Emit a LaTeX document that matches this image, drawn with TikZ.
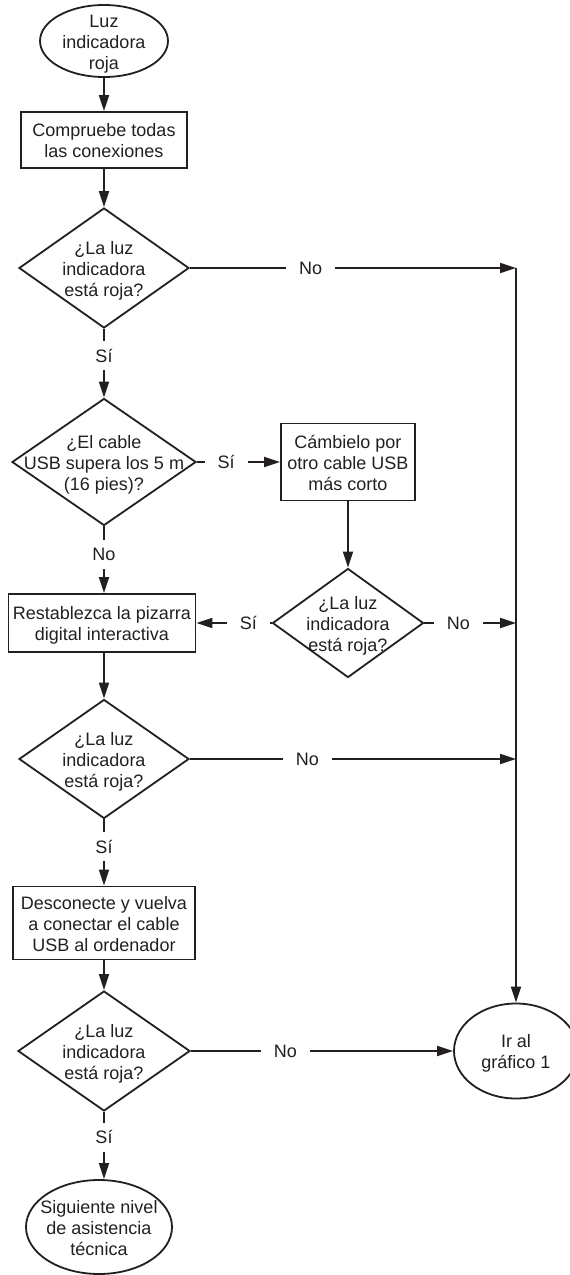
\documentclass[tikz,border=0pt]{standalone}
\usepackage{fontspec}
\setmainfont{Liberation Sans}
\usetikzlibrary{shapes.geometric,arrows.meta}

\definecolor{ink}{RGB}{35,31,32}
\newcommand{\qtext}[1]{\smash{\raisebox{-0.42em}{\makebox[0pt]{\begin{tabular}{@{}c@{}}#1\end{tabular}}}}}

\tikzset{
    base/.style={draw=ink, line width=0.9pt, inner sep=0pt, text=ink, font=\fontsize{9}{10.6}\selectfont},
    term/.style 2 args={base, ellipse, minimum width=#1, minimum height=#2},
    process/.style 2 args={base, rectangle, minimum width=#1, minimum height=#2},
    decision/.style 2 args={base, diamond, minimum width=#1, minimum height=#2},
    flow/.style={draw=ink, line width=0.9pt, -{Triangle[length=8pt, width=5pt]}},
    lbl/.style={fill=white, text=ink, font=\fontsize{9}{10.6}\selectfont, inner xsep=6.5pt, inner ysep=4pt}
}

\begin{document}
\begin{tikzpicture}[x=0.5pt, y=-0.5pt]
    \useasboundingbox (0,0) rectangle (569,1275);

    \node[term={64pt}{36pt}] (start) at (104,41) {\qtext{Luz\\indicadora\\roja}};
    \node[process={83pt}{28pt}] (check) at (104,140) {\qtext{Compruebe todas\\las conexiones}};
    \node[decision={85pt}{60pt}] (red1) at (104,268) {\qtext{¿La luz\\indicadora\\está roja?}};
    \node[decision={92pt}{63.5pt}] (usb) at (104,462) {\qtext{¿El cable\\USB supera los 5 m\\(16 pies)?}};
    \node[process={67pt}{38.5pt}] (swap) at (348,462) {\qtext{Cámbielo por\\otro cable USB\\más corto}};
    \node[decision={75.5pt}{54.5pt}] (red2) at (348,623) {\qtext{¿La luz\\indicadora\\está roja?}};
    \node[process={93.5pt}{29pt}] (reset) at (102,623) {\qtext{Restablezca la pizarra\\digital interactiva}};
    \node[decision={85pt}{59.5pt}] (red3) at (104,759) {\qtext{¿La luz\\indicadora\\está roja?}};
    \node[process={91pt}{36.5pt}] (replug) at (104,923) {\qtext{Desconecte y vuelva\\a conectar el cable\\USB al ordenador}};
    \node[decision={86pt}{60pt}] (red4) at (104,1051) {\qtext{¿La luz\\indicadora\\está roja?}};
    \node[term={73pt}{47pt}] (next) at (99,1227) {\qtext{Siguiente nivel\\de asistencia\\técnica}};
    \node[term={62pt}{47.5pt}] (goto) at (516,1051) {\qtext{Ir al\\gráfico 1}};
    \coordinate (rail) at (516,268);

    \draw[flow] (start) -- (check);
    \draw[flow] (check) -- (red1);
    \draw[flow] (red1) -- node[lbl, pos=0.39]{Sí} (usb);
    \draw[flow] (red1) -- node[lbl, pos=0.37]{No} (rail);
    \draw[flow] (usb) -- node[lbl, pos=0.35]{Sí} (swap);
    \draw[flow] (usb) -- node[lbl, pos=0.42]{No} (usb |- reset.north);
    \draw[flow] (swap) -- (red2);
    \draw[flow] (red2) -- node[lbl, pos=0.31]{Sí} (reset);
    \draw[flow] (red2) -- node[lbl, pos=0.37]{No} (red2 -| rail);
    \draw[flow] (reset.south -| red3) -- (red3);
    \draw[flow] (red3) -- node[lbl, pos=0.36]{No} (red3 -| rail);
    \draw[flow] (red3) -- node[lbl, pos=0.41]{Sí} (replug);
    \draw[flow] (replug) -- (red4);
    \draw[flow] (red4) -- node[lbl, pos=0.36]{No} (goto);
    \draw[flow] (red4) -- node[lbl, pos=0.38]{Sí} (red4.south |- next.north);

    % shared line down to the chart-1 link
    \draw[flow] (rail) -- (goto);
\end{tikzpicture}
\end{document}
